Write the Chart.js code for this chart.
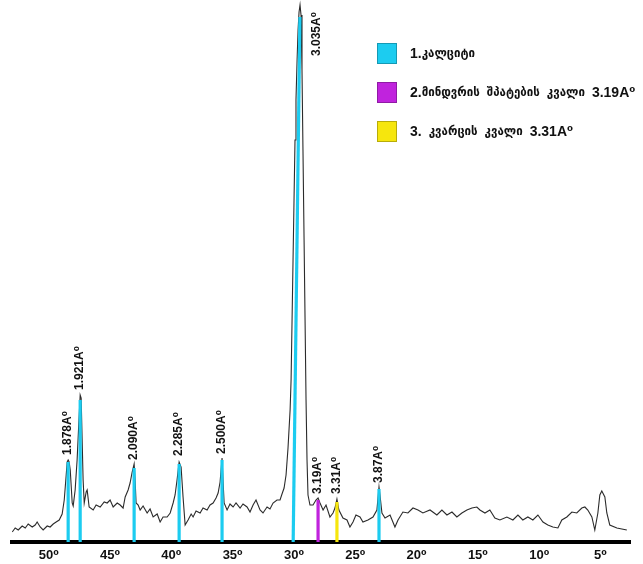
<!DOCTYPE html>
<html>
<head>
<meta charset="utf-8">
<script src="https://cdn.jsdelivr.net/npm/chart.js@4"></script>
<style>
  html, body { margin: 0; padding: 0; background: #fff; }
  canvas { display: block; }
</style>
</head>
<body>
<canvas id="xrd" width="643" height="564"></canvas>
<script>
// diffraction trace: 2θ (deg) and intensity (arb. units)
const theta = [
  52.98, 52.74, 52.49, 52.17, 51.92, 51.68, 51.35, 51.11, 50.95, 50.70,
  50.46, 50.13, 49.89, 49.64, 49.40, 49.15, 48.91, 48.74, 48.58, 48.50,
  48.42, 48.34, 48.25, 48.09, 48.01, 47.85, 47.69, 47.52, 47.44, 47.36,
  47.28, 47.20, 47.11, 46.95, 46.87, 46.71, 46.38, 46.14, 45.81, 45.48,
  45.24, 45.00, 44.75, 44.42, 44.18, 43.94, 43.77, 43.53, 43.37, 43.20,
  43.04, 42.96, 42.88, 42.71, 42.55, 42.31, 41.98, 41.74, 41.49, 41.16,
  40.92, 40.68, 40.35, 40.10, 39.86, 39.70, 39.54, 39.37, 39.21, 39.05,
  38.88, 38.64, 38.39, 38.23, 37.99, 37.66, 37.42, 37.09, 36.85, 36.60,
  36.36, 36.19, 36.03, 35.95, 35.87, 35.79, 35.70, 35.46, 35.22, 34.97,
  34.73, 34.40, 34.16, 33.83, 33.59, 33.34, 33.10, 32.77, 32.53, 32.20,
  31.96, 31.71, 31.39, 31.14, 30.98, 30.81, 30.65, 30.49, 30.32, 30.24,
  30.16, 30.08, 30.00, 29.92, 29.84, 29.75, 29.67, 29.59, 29.51, 29.43,
  29.35, 29.27, 29.18, 29.10, 29.02, 28.94, 28.86, 28.70, 28.45, 28.21,
  28.04, 27.88, 27.63, 27.39, 27.07, 26.82, 26.66, 26.50, 26.34, 26.01,
  25.68, 25.44, 25.19, 24.95, 24.62, 24.38, 23.97, 23.56, 23.24, 23.07,
  22.99, 22.83, 22.58, 22.17, 21.77, 21.52, 21.12, 20.71, 20.30, 19.89,
  19.49, 18.91, 18.35, 17.94, 17.53, 17.12, 16.72, 16.31, 15.90, 15.49,
  15.09, 14.84, 14.43, 14.03, 13.62, 13.21, 12.64, 12.15, 11.74, 11.34,
  10.93, 10.52, 10.11, 9.70, 9.30, 8.89, 8.48, 8.16, 7.75, 7.34,
  6.94, 6.53, 6.28, 6.04, 5.71, 5.47, 5.22, 5.06, 4.90, 4.65,
  4.49, 4.25, 3.67, 2.86
]
const intensity = [
  10, 14, 12, 16, 14, 18, 15, 17, 20, 15,
  12, 16, 15, 18, 20, 22, 28, 42, 67, 80,
  82, 80, 72, 39, 36, 52, 82, 127, 147, 144,
  102, 62, 39, 50, 52, 35, 32, 37, 35, 40,
  39, 42, 35, 39, 37, 34, 45, 52, 59, 70,
  78, 62, 39, 37, 32, 36, 29, 33, 25, 28,
  20, 25, 25, 29, 39, 47, 62, 80, 75, 45,
  17, 22, 28, 25, 31, 29, 34, 32, 37, 39,
  44, 49, 60, 72, 84, 62, 39, 32, 38, 35,
  39, 34, 38, 35, 30, 37, 42, 32, 29, 35,
  33, 39, 42, 42, 48, 54, 67, 94, 132, 162,
  222, 282, 342, 402, 442, 482, 512, 530, 537, 527,
  472, 392, 302, 222, 142, 82, 47, 37, 37, 42,
  44, 39, 32, 37, 25, 29, 34, 43, 32, 24,
  22, 15, 20, 27, 25, 20, 22, 25, 32, 55,
  47, 29, 24, 27, 15, 22, 30, 29, 34, 32,
  29, 32, 27, 32, 27, 30, 25, 29, 32, 34,
  35, 32, 29, 32, 24, 22, 25, 22, 27, 22,
  25, 22, 27, 20, 17, 15, 14, 22, 25, 30,
  29, 34, 35, 32, 25, 12, 29, 47, 51, 45,
  29, 17, 14, 12
]

// marker sticks under the identified peaks
const stickBottom = [48.42, 47.44, 43.04, 39.37, 35.87, 30.07, 28.04, 26.50, 23.07]
const stickTop = [48.42, 47.44, 43.04, 39.37, 35.87, 29.52, 28.04, 26.50, 23.07]
const stickHeight = [80, 142, 74, 78, 82, 525, 42, 40, 53]
const stickMineral = [0, 0, 0, 0, 0, 0, 1, 2, 0]

// d-spacing labels
const peakLabels = ['1.878A⁰', '1.921A⁰', '2.090A⁰', '2.285A⁰', '2.500A⁰', '3.035A⁰', '3.19A⁰', '3.31A⁰', '3.87A⁰']
const labelTheta = [48.42, 47.44, 43.04, 39.37, 35.87, 28.15, 28.04, 26.50, 23.07]
const labelAt = [87, 152, 82, 86, 88, 486, 48, 48, 59]

const mineralNames = ['1.კალციტი', '2.მინდვრის შპატების კვალი 3.19A⁰', '3. კვარცის კვალი 3.31A⁰']
const mineralColors = ['#1cccf0', '#c023dd', '#f6e60d']

const xTicks = [50, 45, 40, 35, 30, 25, 20, 15, 10, 5]

const FONT = '"Liberation Sans", Arial, "DejaVu Sans", sans-serif'

const datasets = [{
  data: theta.map((t, i) => ({ x: t, y: intensity[i] })),
  borderColor: '#2b2b2b',
  borderWidth: 1.1,
  pointRadius: 0,
  tension: 0,
  order: 2
}]
stickBottom.forEach((t, i) => {
  datasets.push({
    data: [{ x: t, y: 0 }, { x: stickTop[i], y: stickHeight[i] }],
    borderColor: mineralColors[stickMineral[i]],
    borderWidth: 3.2,
    pointRadius: 0,
    order: 1
  })
})

// Georgian runs are set smaller than the latin/number runs, like the original
function drawMixed(ctx, text, x, y) {
  text.split(/(\s+|[\u10A0-\u10FF]+)/).forEach(p => {
    if (!p) return
    if (/^\s+$/.test(p)) { x += 7; return }
    const geo = /[\u10A0-\u10FF]/.test(p)
    ctx.font = geo ? 'bold 11.5px "DejaVu Sans", sans-serif' : 'bold 14px ' + FONT
    ctx.fillText(p, x, y)
    x += ctx.measureText(p).width
  })
}

const annotate = {
  id: 'annotate',
  afterDatasetsDraw(chart) {
    const { ctx, scales: { x, y } } = chart
    ctx.save()
    ctx.fillStyle = '#111'
    ctx.font = 'bold 12px ' + FONT
    ctx.textAlign = 'left'
    ctx.textBaseline = 'middle'
    peakLabels.forEach((txt, i) => {
      ctx.save()
      ctx.translate(x.getPixelForValue(labelTheta[i]), y.getPixelForValue(labelAt[i]))
      ctx.rotate(-Math.PI / 2)
      ctx.fillText(txt, 0, 0)
      ctx.restore()
    })

    // legend
    mineralNames.forEach((name, i) => {
      const top = 43 + i * 39
      ctx.fillStyle = mineralColors[i]
      ctx.fillRect(377, top, 20, 21)
      ctx.strokeStyle = 'rgba(0,0,0,0.25)'
      ctx.lineWidth = 1
      ctx.strokeRect(377.5, top + 0.5, 19, 20)
      ctx.fillStyle = '#111'
      drawMixed(ctx, name, 410, top + 11)
    })
    ctx.restore()
  }
}

new Chart(document.getElementById('xrd'), {
  type: 'line',
  data: { datasets },
  options: {
    responsive: false,
    animation: false,
    layout: { padding: { left: 12, right: 13, top: 0, bottom: 0 } },
    plugins: { legend: { display: false }, tooltip: { enabled: false } },
    scales: {
      x: {
        type: 'linear',
        reverse: true,
        min: 2.6,
        max: 53,
        afterBuildTicks: axis => { axis.ticks = xTicks.map(v => ({ value: v })) },
        afterFit: axis => { axis.height = 22 },
        grid: { display: false, drawTicks: false },
        border: { display: true, color: '#000', width: 4 },
        ticks: {
          autoSkip: false,
          maxRotation: 0,
          padding: 6,
          color: '#111',
          font: { family: FONT, size: 13, weight: 'bold' },
          callback: v => v + '⁰'
        }
      },
      y: {
        display: false,
        min: 0,
        max: 542
      }
    }
  },
  plugins: [annotate]
})
</script>
</body>
</html>
